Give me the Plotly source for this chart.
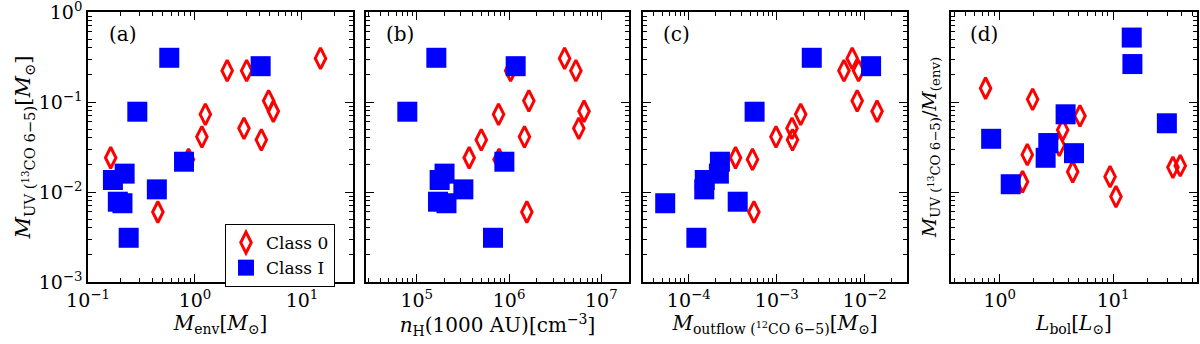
import plotly.graph_objects as go
from plotly.subplots import make_subplots

# Class 0 (red open diamonds)
c0_menv = [0.163, 0.45, 0.87, 1.16, 1.25, 2.0, 3.04, 2.87, 4.17, 4.88, 5.4, 14.9]
c0_muv = [0.024, 0.006, 0.023, 0.041, 0.073, 0.223, 0.223, 0.051, 0.038, 0.103, 0.079, 0.305]
c0_nh = [3.7e5, 1.56e6, 7.8e5, 1.47e6, 7.7e5, 1.04e6, 5.3e6, 5.7e6, 5.0e5, 1.64e6, 6.5e6, 4.0e6]
c0_mout = [3.4e-4, 5.5e-4, 5.3e-4, 9.8e-4, 1.87e-3, 8.5e-3, 5.8e-3, 1.49e-3, 1.51e-3, 8.2e-3, 1.38e-2, 7.2e-3]
c0_lbol = [0.75, 1.95, 5.1, 3.59, 3.35, 1.75, 1.59, 4.4, 9.4, 10.6, 33.7, 39.1]
c0_ratio = [0.142, 0.107, 0.07, 0.049, 0.033, 0.026, 0.013, 0.0168, 0.0148, 0.0089, 0.0188, 0.0196]

# Class I (blue filled squares)
c1_menv = [0.575, 4.11, 0.289, 0.79, 0.22, 0.171, 0.44, 0.19, 0.21, 0.24]
c1_muv = [0.31, 0.25, 0.078, 0.0217, 0.016, 0.0136, 0.0107, 0.0078, 0.0075, 0.0031]
c1_nh = [1.63e5, 1.18e6, 7.9e4, 8.9e5, 2.0e5, 1.77e5, 3.2e5, 1.7e5, 2.1e5, 6.7e5]
c1_mout = [2.5e-3, 1.18e-2, 5.6e-4, 2.26e-4, 2.2e-4, 1.52e-4, 1.5e-4, 3.6e-4, 5.4e-5, 1.22e-4]
c1_lbol = [14.6, 14.8, 3.81, 0.84, 2.68, 4.52, 2.54, 29.8, 1.25]
c1_ratio = [0.52, 0.264, 0.073, 0.039, 0.035, 0.027, 0.024, 0.058, 0.0122]

panels = ["(a)", "(b)", "(c)", "(d)"]
FONT = "DejaVu Serif"

fig = make_subplots(rows=1, cols=4)

sets = [
    (c0_menv, c0_muv, c1_menv, c1_muv),
    (c0_nh, c0_muv, c1_nh, c1_muv),
    (c0_mout, c0_muv, c1_mout, c1_muv),
    (c0_lbol, c0_ratio, c1_lbol, c1_ratio),
]
for i, (x0, y0, x1, y1) in enumerate(sets):
    fig.add_trace(go.Scatter(x=x0, y=y0, mode="markers", name="Class 0", showlegend=(i == 0),
                             marker=dict(symbol="diamond-tall-open", size=15, color="#ff0000",
                                         line=dict(width=3, color="#ff0000"))), row=1, col=i + 1)
    fig.add_trace(go.Scatter(x=x1, y=y1, mode="markers", name="Class I", showlegend=(i == 0),
                             marker=dict(symbol="square", size=20, color="#0000ff",
                                         line=dict(width=0))), row=1, col=i + 1)

# axis layout, in pixels of the 1200x344 page
W, H = 1200, 344
xdoms = [(88, 353), (366, 629), (643, 907), (951, 1197)]
ydom = [1 - 282 / H, 1 - 12 / H]
xranges = [[-1, 1.477], [4.45, 7.3], [-4.52, -1.52], [-0.43, 1.74]]
xticks = [
    ([0.1, 1, 10], ["10<sup>−1</sup>", "10<sup>0</sup>", "10<sup>1</sup>"]),
    ([1e5, 1e6, 1e7], ["10<sup>5</sup>", "10<sup>6</sup>", "10<sup>7</sup>"]),
    ([1e-4, 1e-3, 1e-2], ["10<sup>−4</sup>", "10<sup>−3</sup>", "10<sup>−2</sup>"]),
    ([1, 10], ["10<sup>0</sup>", "10<sup>1</sup>"]),
]
xtitles = [
    "<i>M</i><sub>env</sub>[<i>M</i><sub>⊙</sub>]",
    "<i>n</i><sub>H</sub>(1000 AU)[cm<sup>−3</sup>]",
    "<i>M</i><sub>outflow (<sup>12</sup>CO 6−5)</sub>[<i>M</i><sub>⊙</sub>]",
    "<i>L</i><sub>bol</sub>[<i>L</i><sub>⊙</sub>]",
]
yvals = [1e-3, 1e-2, 1e-1, 1]
ytext = ["10<sup>−3</sup>", "10<sup>−2</sup>", "10<sup>−1</sup>", "10<sup>0</sup>"]

common = dict(type="log", showline=True, linecolor="black", linewidth=1.5, mirror="ticks",
              ticks="inside", ticklen=8, tickwidth=1, tickcolor="black", showgrid=False,
              zeroline=False, automargin=False, ticklabeloverflow="allow",
              tickfont=dict(family=FONT, size=19, color="black"),
              minor=dict(ticks="inside", ticklen=4, tickcolor="black", tickmode="linear", dtick="D1"))

for i in range(4):
    n = "" if i == 0 else str(i + 1)
    fig.layout["xaxis" + n].update(common, domain=[xdoms[i][0] / W, xdoms[i][1] / W], range=xranges[i],
                                   tickmode="array", tickvals=xticks[i][0], ticktext=xticks[i][1],
                                   title=dict(text=xtitles[i], font=dict(family=FONT, size=20, color="black"),
                                              standoff=2))
    fig.layout["yaxis" + n].update(common, domain=ydom, range=[-3, 0], tickmode="array",
                                   tickvals=yvals, ticktext=ytext, showticklabels=(i == 0))
    fig.add_annotation(text=panels[i], x=0.07, y=0.97, xref="x%s domain" % n, yref="y%s domain" % n,
                       xanchor="left", yanchor="top", showarrow=False,
                       font=dict(family=FONT, size=20, color="black"))

fig.layout.yaxis.title = dict(text="<i>M</i><sub>UV (<sup>13</sup>CO 6−5)</sub>[<i>M</i><sub>⊙</sub>]",
                              font=dict(family=FONT, size=21, color="black"), standoff=2)
fig.layout.yaxis4.title = dict(text="<i>M</i><sub>UV (<sup>13</sup>CO 6−5)</sub>/<i>M</i><sub>(env)</sub>",
                               font=dict(family=FONT, size=19, color="black"), standoff=8)

fig.update_layout(
    width=W, height=H, margin=dict(l=0, r=0, t=0, b=0),
    plot_bgcolor="white", paper_bgcolor="white",
    legend=dict(x=225 / W, y=1 - 224 / H, xanchor="left", yanchor="top",
                bordercolor="black", borderwidth=1, bgcolor="white",
                font=dict(family=FONT, size=17, color="black"), tracegroupgap=0),
)

# page has a default 8px body margin; drop it so the figure fills the window
fig.write_html("out.html", config={"displayModeBar": False},
               post_script="document.body.style.margin='0';document.body.style.overflow='hidden';")
